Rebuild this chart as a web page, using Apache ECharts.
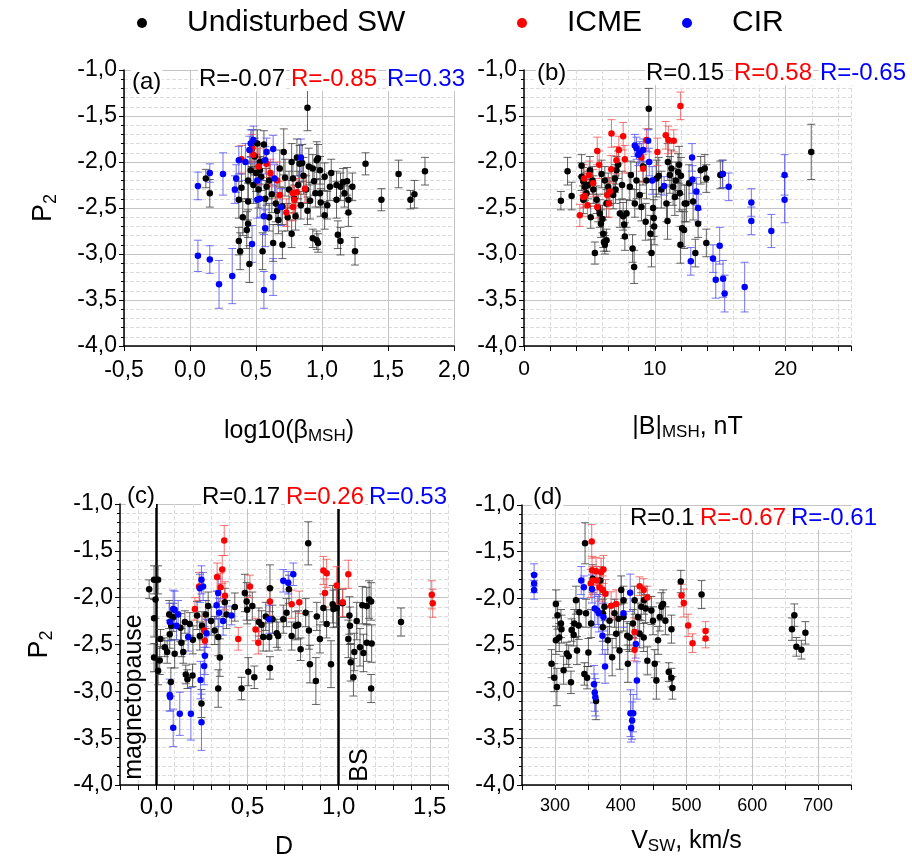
<!DOCTYPE html>
<html><head><meta charset="utf-8">
<script src="https://cdn.jsdelivr.net/npm/echarts@6/dist/echarts.min.js"></script>
<style>html,body{margin:0;padding:0;background:#fff}#c{width:912px;height:861px}</style>
</head><body><div id="c"></div><script>
// ---------------- DATA ----------------
const categories = ['Undisturbed SW', 'ICME', 'CIR'];
const yTicks = [-4, -3.5, -3, -2.5, -2, -1.5, -1];
const xTicksA = [-0.5, 0, 0.5, 1, 1.5, 2];
const xTicksB = [0, 10, 20];
const xTicksC = [0, 0.5, 1, 1.5];
const xTicksD = [300, 400, 500, 600, 700];
const boundaryC = [0, 1]; // magnetopause, bow shock
const rA = ['R=-0.07', 'R=-0.85', 'R=0.33'];
const rB = ['R=0.15', 'R=0.58', 'R=-0.65'];
const rC = ['R=0.17', 'R=0.26', 'R=0.53'];
const rD = ['R=0.1', 'R=-0.67', 'R=-0.61'];

// each point: [x, P2, error]
const blackA = [[0.12,-2.18,0.1],[0.15,-2.34,0.15],[0.37,-2.41,0.2],[0.37,-2.86,0.15],[0.38,-2.97,0.2],[0.45,-3.11,0.2],[0.43,-2.74,0.2],[0.44,-2.67,0.15],[0.44,-2.2,0.2],[0.44,-2.43,0.2],[0.46,-2.09,0.15],[0.49,-1.94,0.2],[0.53,-2.09,0.15],[0.54,-2.16,0.15],[0.56,-1.81,0.15],[0.58,-2.27,0.2],[0.55,-2.97,0.2],[0.63,-2.88,0.2],[0.66,-2.53,0.15],[0.67,-2.63,0.15],[0.70,-2.9,0.15],[0.71,-1.89,0.25],[0.68,-2.07,0.2],[0.77,-2.78,0.15],[0.78,-2.18,0.2],[0.80,-2.59,0.15],[0.83,-2.02,0.2],[0.85,-2.01,0.2],[0.89,-1.41,0.25],[0.89,-2.53,0.15],[0.93,-2.07,0.15],[0.96,-1.98,0.2],[0.97,-1.96,0.15],[0.985,-2.09,0.15],[0.94,-2.21,0.15],[0.95,-2.34,0.15],[0.985,-2.34,0.15],[1.02,-2.16,0.15],[1.02,-2.58,0.15],[1.04,-2.47,0.15],[1.07,-2.12,0.15],[1.11,-2.25,0.15],[1.11,-2.41,0.2],[1.14,-2.27,0.15],[1.16,-2.22,0.15],[1.17,-2.34,0.15],[1.19,-2.21,0.15],[1.2,-2.41,0.15],[1.2,-2.55,0.15],[1.23,-2.27,0.15],[0.93,-2.83,0.1],[0.96,-2.85,0.1],[0.97,-2.88,0.1],[1.12,-2.79,0.15],[1.14,-2.86,0.15],[1.25,-2.97,0.15],[1.33,-2.02,0.12],[1.45,-2.41,0.12],[1.58,-2.13,0.15],[1.67,-2.41,0.1],[1.7,-2.35,0.15],[1.78,-2.1,0.15],[0.48,-2.25,0.2],[0.5,-2.12,0.2],[0.52,-2.3,0.2],[0.6,-2.2,0.2],[0.62,-2.35,0.2],[0.65,-2.45,0.2],[0.72,-2.17,0.2],[0.75,-2.3,0.2],[0.79,-2.4,0.15],[0.82,-2.25,0.15],[0.86,-2.15,0.2],[0.88,-2.3,0.15],[0.9,-2.05,0.2],[0.91,-2.42,0.2],[0.6,-2.6,0.15],[0.57,-2.4,0.2],[0.4,-2.6,0.2],[0.39,-2.28,0.15],[0.47,-1.85,0.2],[0.51,-1.8,0.15],[0.53,-2.0,0.2],[0.7,-2.48,0.2],[0.74,-2.6,0.15],[0.84,-2.47,0.15],[0.99,-2.44,0.15],[1.06,-2.27,0.15],[0.77,-2.0,0.2],[0.81,-1.95,0.2]];
const redA = [[0.39,-1.97,0.15],[0.47,-1.85,0.15],[0.48,-1.92,0.15],[0.52,-2.05,0.2],[0.61,-2.12,0.15],[0.68,-2.36,0.15],[0.73,-2.55,0.15],[0.78,-2.34,0.15],[0.79,-2.41,0.15],[0.81,-2.33,0.15],[0.87,-2.29,0.15],[0.78,-2.49,0.15],[0.66,-2.2,0.2],[0.58,-2.02,0.15]];
const blueA = [[0.06,-2.26,0.15],[0.15,-2.12,0.1],[0.25,-2.13,0.23],[0.06,-3.02,0.17],[0.15,-3.06,0.15],[0.22,-3.33,0.26],[0.32,-3.24,0.3],[0.35,-2.18,0.15],[0.34,-2.3,0.15],[0.37,-1.98,0.15],[0.45,-1.87,0.15],[0.46,-1.8,0.15],[0.48,-1.76,0.15],[0.51,-2.2,0.2],[0.51,-2.41,0.2],[0.47,-2.89,0.2],[0.56,-2.59,0.2],[0.57,-2.72,0.2],[0.56,-3.39,0.2],[0.63,-3.25,0.2],[0.58,-1.89,0.15],[0.57,-1.98,0.15],[0.63,-1.86,0.15],[0.64,-2.18,0.15],[0.69,-2.49,0.2],[0.84,-1.95,0.2],[0.53,-2.4,0.2],[0.42,-2.0,0.2]];

const blackB = [[2.82,-2.42,0.1],[3.33,-2.1,0.15],[3.64,-2.37,0.15],[4.4,-2.04,0.12],[4.4,-2.16,0.15],[4.53,-2.21,0.15],[4.66,-2.27,0.15],[4.53,-2.41,0.15],[4.78,-2.34,0.15],[5.04,-2.09,0.15],[5.24,-2.2,0.15],[5.42,-2.99,0.12],[5.55,-2.41,0.15],[5.67,-2.5,0.15],[5.8,-2.56,0.15],[5.88,-2.67,0.15],[6.06,-2.78,0.15],[6.11,-2.87,0.1],[6.18,-2.9,0.1],[6.31,-2.85,0.12],[5.93,-2.13,0.15],[6.18,-2.2,0.15],[6.44,-2.27,0.15],[6.56,-2.32,0.15],[6.82,-2.36,0.15],[6.95,-2.18,0.15],[7.07,-2.09,0.15],[7.2,-2.03,0.15],[7.33,-2.56,0.15],[7.58,-2.59,0.15],[7.66,-2.68,0.15],[7.71,-2.81,0.15],[7.84,-2.56,0.15],[8.09,-2.27,0.15],[8.17,-2.14,0.15],[8.3,-2.94,0.15],[8.42,-3.14,0.18],[8.47,-2.45,0.15],[8.85,-2.36,0.15],[8.98,-2.49,0.15],[9.36,-2.2,0.2],[9.54,-1.42,0.22],[9.67,-2.78,0.2],[9.75,-2.99,0.15],[9.87,-2.5,0.2],[9.92,-2.61,0.2],[9.95,-2.7,0.2],[10.13,-2.18,0.2],[10.89,-2.45,0.2],[10.97,-2.64,0.2],[11.15,-2.14,0.2],[11.27,-2.07,0.2],[11.4,-2.27,0.2],[11.53,-2.38,0.2],[11.6,-2.2,0.2],[11.78,-2.11,0.2],[11.86,-2.03,0.2],[11.91,-2.34,0.2],[11.96,-2.9,0.2],[12.09,-2.72,0.2],[12.24,-2.74,0.2],[12.29,-2.45,0.2],[12.42,-2.45,0.2],[12.62,-2.23,0.2],[12.93,-2.43,0.2],[13.1,-2.99,0.15],[13.31,-2.67,0.15],[13.51,-2.09,0.15],[13.82,-2.07,0.15],[13.94,-2.88,0.15],[13.94,-2.18,0.15],[15.01,-2.14,0.15],[15.17,-2.13,0.15],[21.96,-1.89,0.3],[4.9,-2.25,0.15],[5.3,-2.3,0.15],[6.3,-2.45,0.15],[7.0,-2.3,0.15],[7.5,-2.25,0.15],[8.6,-2.2,0.2],[9.1,-2.05,0.2],[10.5,-2.3,0.2],[11.0,-2.0,0.2],[12.0,-2.15,0.2],[9.3,-2.65,0.2],[10.3,-2.15,0.2],[5.1,-2.6,0.12],[6.0,-2.62,0.15]];
const redB = [[11.96,-1.39,0.15],[6.69,-1.69,0.15],[7.58,-1.72,0.15],[5.6,-1.88,0.15],[7.25,-1.87,0.15],[7.71,-1.97,0.15],[6.67,-2.08,0.15],[5.75,-2.03,0.15],[4.99,-2.14,0.15],[4.6,-2.18,0.15],[4.66,-2.37,0.12],[4.86,-2.47,0.12],[4.27,-2.58,0.12],[6.36,-2.36,0.15],[6.49,-2.45,0.15],[5.6,-2.49,0.12],[9.36,-1.76,0.12],[8.98,-1.95,0.15],[9.11,-2.07,0.15],[10.2,-1.89,0.15],[10.84,-1.71,0.15],[11.04,-1.76,0.15],[11.45,-1.77,0.12],[4.53,-2.38,0.12],[5.29,-2.23,0.15],[6.56,-2.32,0.15],[7.07,-1.98,0.15]];
const blueB = [[8.47,-1.82,0.12],[8.6,-1.85,0.12],[9.11,-1.87,0.12],[8.73,-1.92,0.12],[8.85,-1.9,0.12],[9.49,-1.77,0.12],[9.57,-2.0,0.15],[9.8,-2.2,0.15],[10.71,-2.26,0.1],[12.85,-1.95,0.15],[12.88,-2.19,0.15],[13.18,-2.32,0.15],[13.31,-2.5,0.15],[15.65,-2.27,0.15],[15.2,-2.13,0.15],[17.38,-2.44,0.15],[17.38,-2.64,0.15],[18.91,-2.75,0.18],[19.92,-2.14,0.22],[19.92,-2.41,0.25],[12.75,-3.08,0.15],[14.45,-3.05,0.15],[14.96,-2.91,0.2],[14.66,-3.28,0.2],[15.22,-3.27,0.2],[15.34,-3.43,0.2],[16.87,-3.36,0.27]];

const blackC = [[-0.04,-1.91,0.1],[-0.013,-1.81,0.15],[0.009,-1.81,0.15],[-0.013,-2.22,0.2],[-0.005,-2.02,0.2],[-0.013,-2.64,0.15],[0.009,-2.78,0.15],[0.018,-2.67,0.15],[0.022,-2.44,0.1],[0.046,-2.53,0.1],[0.059,-2.58,0.12],[0.07,-2.18,0.15],[0.073,-2.39,0.15],[0.081,-2.3,0.15],[0.079,-2.9,0.15],[0.092,-2.21,0.15],[0.132,-2.32,0.15],[0.137,-2.48,0.15],[0.147,-2.58,0.12],[0.156,-2.26,0.12],[0.161,-2.82,0.1],[0.17,-2.87,0.1],[0.183,-2.28,0.12],[0.198,-2.83,0.12],[0.223,-2.19,0.15],[0.238,-2.41,0.15],[0.247,-3.13,0.15],[0.271,-2.18,0.15],[0.284,-2.09,0.15],[0.32,-2.35,0.15],[0.339,-2.42,0.2],[0.339,-2.97,0.2],[0.348,-2.64,0.2],[0.375,-2.05,0.15],[0.385,-2.18,0.15],[0.485,-1.95,0.2],[0.495,-2.04,0.2],[0.504,-2.79,0.15],[0.526,-2.09,0.15],[0.537,-2.85,0.12],[0.467,-2.97,0.12],[0.498,-2.13,0.15],[0.562,-2.26,0.15],[0.577,-2.29,0.15],[0.586,-2.42,0.15],[0.619,-2.42,0.15],[0.623,-1.9,0.25],[0.623,-2.75,0.12],[0.637,-2.23,0.15],[0.668,-2.41,0.15],[0.696,-2.23,0.15],[0.714,-2.16,0.15],[0.727,-1.91,0.15],[0.742,-2.41,0.15],[0.764,-2.3,0.15],[0.778,-2.29,0.15],[0.791,-2.55,0.12],[0.819,-2.16,0.15],[0.833,-1.42,0.23],[0.837,-2.35,0.2],[0.842,-2.71,0.2],[0.875,-2.89,0.25],[0.897,-2.44,0.15],[0.916,-2.11,0.15],[0.934,-2.28,0.15],[0.958,-2.71,0.25],[0.967,-2.07,0.2],[0.971,-2.12,0.2],[0.989,-2.11,0.2],[1.022,-2.06,0.15],[1.053,-2.44,0.2],[1.059,-2.19,0.2],[1.062,-2.3,0.2],[1.066,-2.69,0.2],[1.081,-2.85,0.2],[1.086,-2.58,0.2],[1.099,-2.25,0.2],[1.117,-2.53,0.2],[1.13,-2.08,0.2],[1.154,-2.09,0.2],[1.154,-2.48,0.2],[1.167,-2.02,0.2],[1.178,-2.04,0.2],[1.181,-2.49,0.2],[1.178,-2.97,0.15],[1.136,-2.59,0.2],[1.342,-2.26,0.15],[0.43,-2.1,0.15],[0.6,-2.2,0.15],[0.66,-2.38,0.15],[0.88,-2.2,0.15],[0.3,-2.25,0.15],[0.25,-2.3,0.15],[0.2,-2.45,0.15],[0.1,-2.6,0.15]];
const redC = [[0.211,-2.12,0.12],[0.234,-1.88,0.15],[0.262,-2.35,0.15],[0.266,-2.46,0.15],[0.333,-1.78,0.15],[0.352,-1.89,0.15],[0.361,-1.7,0.15],[0.372,-1.39,0.16],[0.376,-1.98,0.15],[0.449,-2.44,0.12],[0.513,-1.88,0.12],[0.544,-2.34,0.12],[0.559,-2.48,0.12],[0.623,-2.04,0.15],[0.742,-2.07,0.15],[0.784,-2.05,0.12],[0.916,-1.71,0.15],[0.925,-1.95,0.15],[0.934,-1.74,0.15],[0.989,-1.87,0.2],[1.022,-2.05,0.15],[1.053,-1.75,0.15],[1.511,-1.97,0.15],[1.516,-2.06,0.15]];
const blueC = [[0.073,-2.26,0.2],[0.092,-2.12,0.2],[0.1,-2.13,0.2],[0.119,-2.18,0.15],[0.11,-2.3,0.15],[0.073,-3.04,0.17],[0.075,-3.06,0.15],[0.092,-3.39,0.2],[0.128,-3.24,0.23],[0.189,-3.24,0.28],[0.174,-2.42,0.15],[0.247,-1.81,0.15],[0.238,-1.9,0.15],[0.256,-1.88,0.15],[0.275,-2.38,0.15],[0.266,-2.62,0.2],[0.262,-2.73,0.2],[0.242,-2.88,0.2],[0.247,-3.33,0.3],[0.339,-1.95,0.15],[0.344,-2.16,0.15],[0.33,-2.08,0.15],[0.366,-2.25,0.15],[0.412,-2.19,0.1],[0.619,-2.23,0.15],[0.696,-1.82,0.12],[0.723,-1.84,0.12],[0.751,-1.75,0.12]];

const blackD = [[294.9,-2.7,0.15],[299,-2.85,0.15],[303,-2.95,0.2],[301.5,-2.06,0.15],[304,-2.18,0.15],[306.6,-2.42,0.15],[310,-2.33,0.15],[313.2,-2.77,0.15],[318,-2.59,0.12],[321,-2.62,0.12],[324.4,-2.9,0.12],[325.4,-2.34,0.12],[328.5,-2.39,0.12],[332,-2.02,0.15],[333.6,-2.56,0.15],[336.1,-2.29,0.15],[337.2,-2.15,0.15],[345.8,-1.41,0.22],[344.8,-2.81,0.12],[348.9,-2.85,0.12],[350.9,-2.58,0.15],[357.5,-1.79,0.15],[362.6,-3.1,0.2],[368.7,-1.81,0.15],[372.8,-2.16,0.15],[375.3,-2.09,0.15],[380.4,-2.45,0.15],[387,-2.63,0.2],[393.1,-2.38,0.15],[396.7,-2.22,0.15],[398.2,-2.56,0.2],[400.8,-1.91,0.15],[404.3,-2.2,0.15],[409.9,-2.4,0.15],[410.9,-2.7,0.2],[421.1,-2.02,0.15],[426.2,-2.2,0.15],[428.8,-2.38,0.15],[431.3,-2.09,0.15],[434.9,-2.42,0.15],[438,-2.11,0.15],[440.5,-2.67,0.15],[446.6,-2.13,0.15],[451.7,-2.7,0.15],[454.2,-2.88,0.2],[456.7,-2.45,0.15],[459.3,-2.2,0.15],[461.8,-2.09,0.15],[464.4,-2.06,0.15],[467.9,-2.24,0.15],[473,-2.79,0.1],[477.1,-2.85,0.1],[478.6,-2.96,0.12],[477.1,-2.33,0.15],[491.3,-1.82,0.12],[522.9,-1.96,0.15],[660.3,-2.33,0.12],[663.9,-2.18,0.12],[667,-2.52,0.1],[674.6,-2.55,0.1],[680.7,-2.37,0.12],[347.3,-2.16,0.15],[355,-2.27,0.15],[383,-2.24,0.15],[390.6,-2.16,0.15],[418.6,-2.27,0.15],[449.1,-2.24,0.15],[413.5,-2.42,0.15],[301.5,-2.45,0.15],[309.2,-2.27,0.15],[329.5,-2.27,0.15],[372.8,-2.31,0.15],[404.3,-2.02,0.15],[435.4,-2.02,0.15]];
const redD = [[356,-1.39,0.18],[356.5,-1.7,0.15],[357.5,-1.81,0.15],[362.6,-1.71,0.15],[364.1,-1.81,0.15],[370.2,-1.72,0.15],[373.8,-1.69,0.15],[372.8,-1.91,0.15],[376.9,-1.95,0.15],[385.5,-2.08,0.15],[393.1,-2.06,0.15],[421.1,-2.36,0.15],[421.1,-2.55,0.12],[428.8,-1.87,0.1],[434.9,-1.91,0.12],[440.5,-1.99,0.12],[492.4,-1.97,0.12],[495.9,-2.05,0.15],[502.5,-2.29,0.12],[509.2,-2.48,0.1],[529,-2.35,0.1],[529,-2.43,0.1],[367.7,-1.88,0.15],[354.5,-1.84,0.15]];
const blueD = [[268.4,-1.75,0.12],[268.4,-1.84,0.1],[268.4,-1.91,0.1],[340,-1.81,0.15],[344,-1.88,0.12],[356.4,-1.9,0.15],[360.6,-2.11,0.2],[366.7,-2.16,0.2],[373.8,-2.2,0.15],[372.3,-2.4,0.2],[376.2,-2.73,0.18],[359.4,-2.92,0.2],[360.6,-3.01,0.2],[361.5,-3.06,0.2],[404.2,-2.16,0.15],[414.4,-1.94,0.2],[423,-2.49,0.15],[424.6,-2.88,0.2],[414.9,-3.23,0.25],[419,-3.23,0.2],[417.4,-3.31,0.2],[415.9,-3.39,0.15],[364.5,-2.13,0.15]];

// ---------------- STYLE / BUILD ----------------
const FONT = '"Liberation Sans", Arial, sans-serif';
const PT_COLORS = ['#000000', '#ff0000', '#0000ff'];
const ERR_COLORS = ['rgba(60,60,60,0.8)', 'rgba(240,80,80,0.8)', 'rgba(80,80,245,0.8)'];

function isMajor(v, list) { return list.some(t => Math.abs(t - v) < 1e-6); }
function comma(v) { return v.toFixed(1).replace('.', ','); }

const grids = [
  {left: 124, top: 70, width: 330, height: 276},
  {left: 524, top: 70, width: 327, height: 276},
  {left: 120, top: 504, width: 328, height: 283},
  {left: 522, top: 505, width: 329, height: 280}
];

function yAxisCfg(gi, showName) {
  return {
    type: 'value', gridIndex: gi, min: -4, max: -1, interval: 0.5,
    axisLine: {show: true, onZero: false, lineStyle: {color: '#000', width: 1.5}},
    axisTick: {show: true, inside: false, length: 5, lineStyle: {color: '#000'}},
    minorTick: {show: true, splitNumber: 5, length: 3, lineStyle: {color: '#000'}},
    splitLine: {show: true, lineStyle: {color: '#c4c4c4', width: 1}},
    minorSplitLine: {show: true, lineStyle: {color: '#dcdcdc', type: 'dashed', width: 1}},
    axisLabel: {fontSize: 23, color: '#000', fontFamily: FONT, margin: 7,
      formatter: v => isMajor(v, yTicks) ? comma(v) : ''},
    name: showName ? '{m|P}{s|2}' : '', nameLocation: 'middle', nameGap: 64, nameRotate: 90,
    nameTextStyle: {rich: {
      m: {fontSize: 27, fontFamily: FONT, color: '#000', verticalAlign: 'top'},
      s: {fontSize: 18, fontFamily: FONT, color: '#000', padding: [12, 0, 0, 0], verticalAlign: 'bottom'}
    }}
  };
}

function xAxisCfg(gi, o) {
  return {
    type: 'value', gridIndex: gi, min: o.min, max: o.max, interval: o.step,
    axisLine: {show: true, onZero: false, lineStyle: {color: '#000', width: 1.5}},
    axisTick: {show: true, inside: false, length: 5, lineStyle: {color: '#000'}},
    splitLine: {show: true, lineStyle: o.solid ? {color: '#c4c4c4', width: 1} : {color: '#dcdcdc', type: 'dashed', width: 1}},
    axisLabel: {fontSize: o.fs, color: '#000', fontFamily: FONT, margin: o.margin, showMinLabel: true, showMaxLabel: true,
      formatter: v => isMajor(v, o.majors) ? o.fmt(v) : ''},
    name: o.name, nameLocation: 'middle', nameGap: o.nameGap,
    nameTextStyle: {rich: {
      m: {fontSize: 25, fontFamily: FONT, color: '#000'},
      s: {fontSize: 17, fontFamily: FONT, color: '#000', padding: [10, 0, 0, 0], verticalAlign: 'bottom'}
    }}
  };
}

const xAxes = [
  xAxisCfg(0, {min: -0.5, max: 2, step: 0.5, majors: xTicksA, fmt: comma, fs: 23, margin: 13, solid: true,
    name: '{m|log10(β}{s|MSH}{m|)}', nameGap: 72}),
  xAxisCfg(1, {min: 0, max: 25, step: 2, majors: xTicksB, fmt: v => String(v), fs: 21, margin: 13,
    name: '{m||B|}{s|MSH}{m|, nT}', nameGap: 68}),
  xAxisCfg(2, {min: -0.2, max: 1.6, step: 0.1, majors: xTicksC, fmt: comma, fs: 24, margin: 10,
    name: '{m|D}', nameGap: 50}),
  xAxisCfg(3, {min: 250, max: 750, step: 50, majors: xTicksD, fmt: v => String(v), fs: 18, margin: 12,
    name: '{m|V}{s|SW}{m|, km/s}', nameGap: 43})
];
const yAxes = [yAxisCfg(0, true), yAxisCfg(1, false), yAxisCfg(2, true), yAxisCfg(3, false)];

function gridLineSeries(gi, lines) {
  return {
    type: 'scatter', xAxisIndex: gi, yAxisIndex: gi, data: [], silent: true, z: 1,
    markLine: {silent: true, z: 1, animation: false, symbol: ['none', 'none'], label: {show: false},
      lineStyle: {color: '#c4c4c4', type: 'solid', width: 1}, data: lines}
  };
}

function errRender(color) {
  return function (params, api) {
    const x = api.value(0), y = api.value(1), e = api.value(2);
    const p1 = api.coord([x, y + e]), p2 = api.coord([x, y - e]);
    const w = 4, st = {stroke: color, lineWidth: 1};
    return {type: 'group', children: [
      {type: 'line', shape: {x1: p1[0], y1: p1[1], x2: p2[0], y2: p2[1]}, style: st},
      {type: 'line', shape: {x1: p1[0] - w, y1: p1[1], x2: p1[0] + w, y2: p1[1]}, style: st},
      {type: 'line', shape: {x1: p2[0] - w, y1: p2[1], x2: p2[0] + w, y2: p2[1]}, style: st}
    ]};
  };
}

const panels = [[blackA, redA, blueA], [blackB, redB, blueB], [blackC, redC, blueC], [blackD, redD, blueD]];
const series = [];
series.push(gridLineSeries(1, xTicksB.filter(v => v > 0).map(v => ({xAxis: v}))));
series.push(gridLineSeries(2, xTicksC.filter(v => !isMajor(v, boundaryC)).map(v => ({xAxis: v}))
  .concat(boundaryC.map(v => ({xAxis: v, lineStyle: {color: '#000', width: 2.5, type: 'solid'}})))));
series.push(gridLineSeries(3, xTicksD.map(v => ({xAxis: v}))));

panels.forEach((sets, gi) => {
  sets.forEach((pts, ci) => {
    series.push({
      type: 'custom', name: categories[ci] + ' error', xAxisIndex: gi, yAxisIndex: gi,
      renderItem: errRender(ERR_COLORS[ci]), data: pts, encode: {x: 0, y: 1}, silent: true, z: 2
    });
    series.push({
      type: 'scatter', name: categories[ci], xAxisIndex: gi, yAxisIndex: gi,
      data: pts.map(p => [p[0], p[1]]), symbol: 'circle', symbolSize: 6.5,
      itemStyle: {color: PT_COLORS[ci], opacity: 1}, z: 3
    });
  });
});

function legendCfg(name, left, w) {
  return {data: [name], left: left, top: 3, icon: 'circle', itemWidth: w, itemHeight: 10,
    selectedMode: false, textStyle: {fontSize: 30, fontFamily: FONT, color: '#000'}};
}

function txt(x, y, s, color, extra) {
  return Object.assign({type: 'text', x: x, y: y, silent: true, z: 10,
    style: {text: s, fill: color, fontSize: 24, fontFamily: FONT, verticalAlign: 'middle', align: 'left',
      backgroundColor: '#fff', padding: [0, 1]}}, extra || {});
}
const graphic = [
  txt(131, 82, '(a)', '#000'), txt(198, 79, rA[0], PT_COLORS[0]), txt(290, 79, rA[1], PT_COLORS[1]), txt(386, 79, rA[2], PT_COLORS[2]),
  txt(536, 73, '(b)', '#000'), txt(645, 73, rB[0], PT_COLORS[0]), txt(733, 73, rB[1], PT_COLORS[1]), txt(819, 73, rB[2], PT_COLORS[2]),
  txt(126, 496, '(c)', '#000'), txt(201, 497, rC[0], PT_COLORS[0]), txt(285, 497, rC[1], PT_COLORS[1]), txt(368, 497, rC[2], PT_COLORS[2]),
  txt(532, 497, '(d)', '#000'), txt(629, 518, rD[0], PT_COLORS[0]), txt(699, 518, rD[1], PT_COLORS[1]), txt(790, 518, rD[2], PT_COLORS[2]),
  {type: 'text', x: 134, y: 697, rotation: Math.PI / 2, silent: true, z: 10,
    style: {text: 'magnetopause', fill: '#000', fontSize: 25, fontFamily: FONT, align: 'center', verticalAlign: 'middle',
      backgroundColor: '#fff'}},
  {type: 'text', x: 360, y: 765, rotation: Math.PI / 2, silent: true, z: 10,
    style: {text: 'BS', fill: '#000', fontSize: 25, fontFamily: FONT, align: 'center', verticalAlign: 'middle',
      backgroundColor: '#fff'}}
];

const chart = echarts.init(document.getElementById('c'), null, {renderer: 'canvas'});
chart.setOption({
  animation: false,
  backgroundColor: '#fff',
  legend: [legendCfg(categories[0], 132, 80), legendCfg(categories[1], 512, 80), legendCfg(categories[2], 677, 80)],
  grid: grids,
  xAxis: xAxes,
  yAxis: yAxes,
  series: series,
  graphic: graphic
});
</script></body></html>
